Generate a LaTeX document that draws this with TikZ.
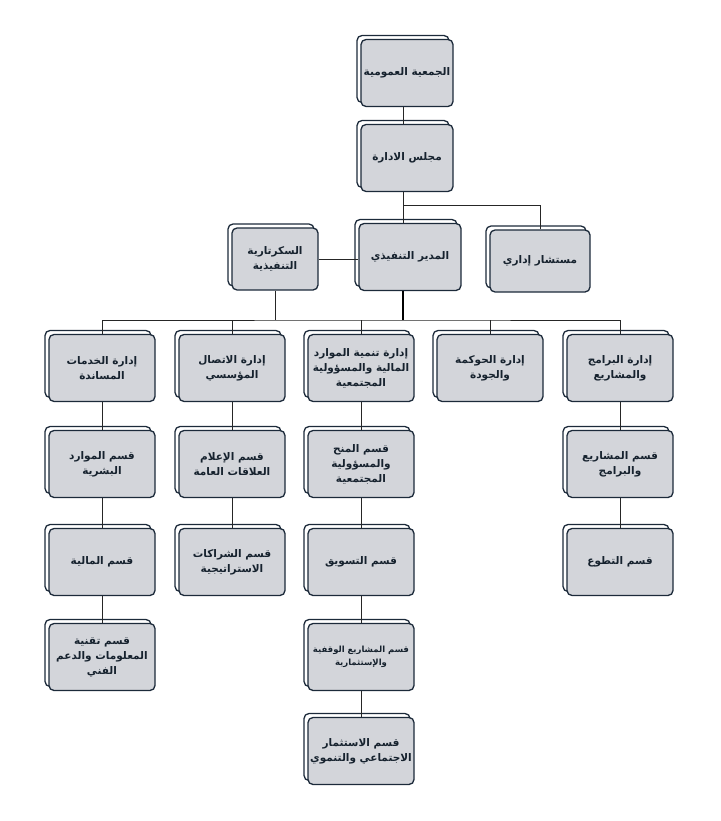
\documentclass[tikz,border=0pt]{standalone}
\usepackage{fontspec}
\newfontfamily\arf{DejaVu Sans}[Script=Arabic]
\TeXXeTstate=1
\newcommand{\RL}[1]{\beginR #1\endR}
\definecolor{navy}{HTML}{1C2A3A}
\definecolor{boxgray}{HTML}{D3D5DA}
\begin{document}
\begin{tikzpicture}[x=1pt,y=-1pt,
  box/.style={draw=navy,fill=boxgray,rounded corners=5pt,line width=1.3pt,
    minimum width=106pt,minimum height=67pt,inner sep=2pt,align=center,
    font=\arf\bfseries\fontsize{10.5}{15}\selectfont,text=navy!80!black,
    preaction={draw=navy,fill=white,line width=1.3pt,transform canvas={shift={(-4pt,4pt)}}}},
  ln/.style={draw=black!85,line width=1pt}]
\useasboundingbox (0,0) rectangle (720,821);
\node[box,minimum width=92pt] (gA) at (407,73) {\RL{الجمعية العمومية}};
\node[box,minimum width=92pt] (mj) at (407,158) {\RL{مجلس الادارة}};
\node[box,minimum width=102pt] (dir) at (410,257) {\RL{المدير التنفيذي}};
\node[box,minimum width=86pt,minimum height=62pt] (sec) at (275,259) {\RL{السكرتارية}\\\RL{التنفيذية}};
\node[box,minimum width=100pt,minimum height=62pt] (mus) at (540,261) {\RL{مستشار إداري}};

\node[box] (a1) at (102,368) {\RL{إدارة الخدمات}\\\RL{المساندة}};
\node[box] (b1) at (232,368) {\RL{إدارة الاتصال}\\\RL{المؤسسي}};
\node[box] (c1) at (361,368) {\RL{إدارة تنمية الموارد}\\\RL{المالية والمسؤولية}\\\RL{المجتمعية}};
\node[box] (d1) at (490,368) {\RL{إدارة الحوكمة}\\\RL{والجودة}};
\node[box] (e1) at (620,368) {\RL{إدارة البرامج}\\\RL{والمشاريع}};

\node[box] (a2) at (102,464) {\RL{قسم الموارد}\\\RL{البشرية}};
\node[box] (b2) at (232,464) {\RL{قسم الإعلام}\\\RL{العلاقات العامة}};
\node[box] (c2) at (361,464) {\RL{قسم المنح}\\\RL{والمسؤولية}\\\RL{المجتمعية}};
\node[box] (e2) at (620,464) {\RL{قسم المشاريع}\\\RL{والبرامج}};

\node[box] (a3) at (102,562) {\RL{قسم المالية}};
\node[box] (b3) at (232,562) {\RL{قسم الشراكات}\\\RL{الاستراتيجية}};
\node[box] (c3) at (361,562) {\RL{قسم التسويق}};
\node[box] (e3) at (620,562) {\RL{قسم التطوع}};

\node[box] (a4) at (102,657) {\RL{قسم تقنية}\\\RL{المعلومات والدعم}\\\RL{الفني}};
\node[box,font=\arf\bfseries\fontsize{8.5}{13}\selectfont] (c4) at (361,657) {\RL{قسم المشاريع الوقفية}\\\RL{والإستثمارية}};
\node[box] (c5) at (361,751) {\RL{قسم الاستثمار}\\\RL{الاجتماعي والتنموي}};

\coordinate (bus) at (403,320);
\begin{scope}[on background layer/.try]
\end{scope}
\draw[ln] (gA.south -| bus) -- (mj.north -| bus);
\draw[ln] (mj.south -| bus) -- (dir.north -| bus);
\draw[ln] (403,205) -| (mus.north);
\draw[ln] (sec.east) -- (sec.east -| dir.west);
\draw[ln] (sec.south) -- (sec.south |- bus);
\draw[draw=black,line width=2pt] (dir.south -| bus) -- (bus);
\draw[ln] (a1.north) |- (bus) -| (e1.north);
\draw[ln] (b1.north) -- (b1.north |- bus);
\draw[ln] (c1.north) -- (c1.north |- bus);
\draw[ln] (d1.north) -- (d1.north |- bus);
\foreach \u/\v in {a1/a2,a2/a3,a3/a4,b1/b2,b2/b3,c1/c2,c2/c3,c3/c4,c4/c5,e1/e2,e2/e3}
  \draw[ln] (\u.south) -- (\v.north);
\end{tikzpicture}
\end{document}
